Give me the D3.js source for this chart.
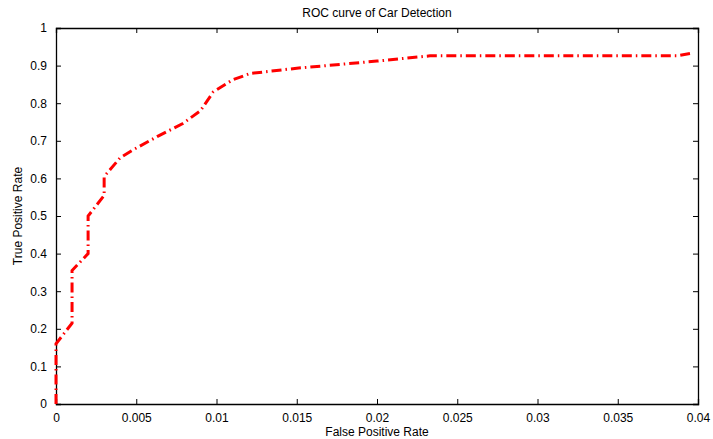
<!DOCTYPE html>
<html>
<head>
<meta charset="utf-8">
<script src="https://cdn.jsdelivr.net/npm/d3@7"></script>
<style>
  body { margin: 0; background: #fff; }
  svg text { font-family: "Liberation Sans", Arial, sans-serif; }
</style>
</head>
<body>
<div id="chart"></div>
<script>
// ROC curve points
var fpr = [0, 0, 0.001, 0.001, 0.002, 0.002, 0.003, 0.003, 0.004, 0.0048, 0.0063,
           0.0079, 0.009, 0.0098, 0.011, 0.0121, 0.015, 0.02, 0.0233, 0.0387, 0.0395];
var tpr = [0, 0.16, 0.215, 0.355, 0.4, 0.5, 0.555, 0.605, 0.655, 0.676, 0.711,
           0.746, 0.78, 0.83, 0.862, 0.879, 0.893, 0.912, 0.926, 0.926, 0.932];
var xTicks = [0, 0.005, 0.01, 0.015, 0.02, 0.025, 0.03, 0.035, 0.04];
var yTicks = [0, 0.1, 0.2, 0.3, 0.4, 0.5, 0.6, 0.7, 0.8, 0.9, 1];

function rocChart() {
    var width = 713;
    var height = 439;
    var margin = {top: 28, right: 15, bottom: 35, left: 56};
    var w = width - margin.left - margin.right;
    var h = height - margin.top - margin.bottom;

    var svg = d3.select('#chart')
      .append('svg')
      .attr('width', width)
      .attr('height', height);

    var g = svg.append('g')
      .attr('transform', 'translate(' + margin.left + ',' + margin.top + ')');

    var x = d3.scaleLinear().domain([0, 0.04]).range([0, w]);
    var y = d3.scaleLinear().domain([0, 1]).range([h, 0]);

    var fmt = function(d) { return String(+d.toFixed(3)); };

    // axes with inward ticks, mirrored on top and right
    var bottom = g.append('g').attr('transform', 'translate(0,' + h + ')')
      .call(d3.axisBottom(x).tickValues(xTicks).tickSize(-5).tickPadding(9).tickFormat(fmt));
    var top = g.append('g')
      .call(d3.axisTop(x).tickValues(xTicks).tickSize(-5).tickFormat(''));
    var left = g.append('g')
      .call(d3.axisLeft(y).tickValues(yTicks).tickSize(-5).tickPadding(9).tickFormat(fmt));
    var right = g.append('g').attr('transform', 'translate(' + w + ',0)')
      .call(d3.axisRight(y).tickValues(yTicks).tickSize(-5).tickFormat(''));

    [bottom, top, left, right].forEach(function(a) {
      a.select('.domain').attr('stroke', '#000').attr('stroke-width', 1.3);
      a.selectAll('.tick line').attr('stroke', '#000');
      a.selectAll('.tick text').attr('fill', '#000').style('font-size', '12px');
    });

    var line = d3.line()
      .x(function(d, i) { return x(fpr[i]); })
      .y(function(d, i) { return y(tpr[i]); });

    g.append('path')
      .datum(tpr)
      .attr('d', line)
      .attr('fill', 'none')
      .attr('stroke', '#ff0000')
      .attr('stroke-width', 3)
      .attr('stroke-dasharray', '10,4,1.5,4');

    svg.append('text')
      .attr('x', margin.left + w / 2)
      .attr('y', 17)
      .attr('text-anchor', 'middle')
      .style('font-size', '12px')
      .text('ROC curve of Car Detection');

    svg.append('text')
      .attr('x', margin.left + w / 2)
      .attr('y', 436)
      .attr('text-anchor', 'middle')
      .style('font-size', '12px')
      .text('False Positive Rate');

    svg.append('text')
      .attr('transform', 'translate(22,' + (margin.top + h / 2) + ') rotate(-90)')
      .attr('text-anchor', 'middle')
      .style('font-size', '12px')
      .text('True Positive Rate');
}

rocChart();
</script>
</body>
</html>
